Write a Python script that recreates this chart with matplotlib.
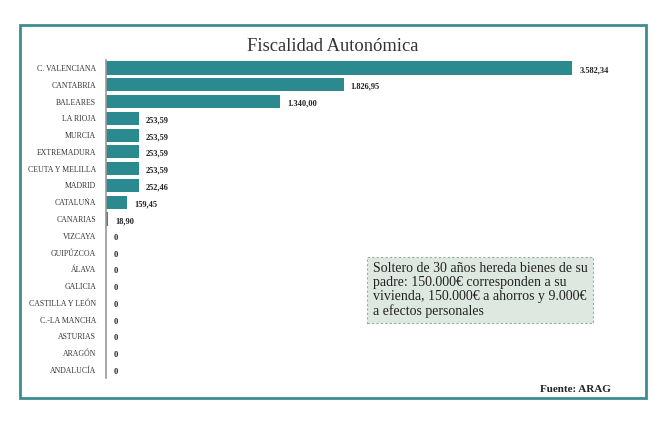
import matplotlib.pyplot as plt
from matplotlib.patches import Rectangle

regiones = ['C. VALENCIANA', 'CANTABRIA', 'BALEARES', 'LA RIOJA', 'MURCIA',
            'EXTREMADURA', 'CEUTA Y MELILLA', 'MADRID', 'CATALUÑA', 'CANARIAS',
            'VIZCAYA', 'GUIPÚZCOA', 'ÁLAVA', 'GALICIA', 'CASTILLA Y LEÓN',
            'C.-LA MANCHA', 'ASTURIAS', 'ARAGÓN', 'ANDALUCÍA']
importes = [3582.34, 1826.95, 1340.00, 253.59, 253.59, 253.59, 253.59, 252.46,
            159.45, 18.90, 0, 0, 0, 0, 0, 0, 0, 0, 0]
etiquetas = ['3.582,34', '1.826,95', '1.340,00', '253,59', '253,59', '253,59',
             '253,59', '252,46', '159,45', '18,90', '0', '0', '0', '0', '0',
             '0', '0', '0', '0']

teal = '#2b8a8f'
serif = ['Liberation Serif', 'DejaVu Serif']

fig = plt.figure(figsize=(6.7, 4.28), dpi=100)
fig.patch.set_facecolor('white')

# marco
fig.patches.append(Rectangle((0.0299, 0.0701), 0.934, 0.8715, transform=fig.transFigure,
                             fill=False, edgecolor='#3d8c90', linewidth=2))

ax = fig.add_axes([106 / 670, 0.1159, (640 - 106) / 670, 0.7448])
y = list(range(len(regiones)))
ax.barh(y, importes, height=0.78, color=teal)
ax.set_ylim(len(regiones) - 0.5, -0.5)
ax.set_xlim(0, 4105)
ax.set_yticks(y)
ax.set_yticklabels(regiones, family=serif, fontsize=5.6, color='#333333')
ax.tick_params(axis='y', length=0, pad=7)
ax.set_xticks([])
for s in ['top', 'right', 'bottom']:
    ax.spines[s].set_visible(False)
ax.spines['left'].set_color('#999999')
ax.spines['left'].set_linewidth(1.2)

for yi, v, t in zip(y, importes, etiquetas):
    ax.text(v + 55, yi + 0.12, t, va='center', ha='left', family=serif,
            fontsize=6, fontweight='bold', color='#222222')

fig.text(0.497, 0.8925, 'Fiscalidad Autonómica', ha='center', va='center',
         family=serif, fontsize=13.3, color='#333333')

fig.text(373 / 670, 1 - 290 / 428,
         'Soltero de 30 años hereda bienes de su\npadre: 150.000€ corresponden a su\n'
         'vivienda, 150.000€ a ahorros y 9.000€\na efectos personales',
         ha='left', va='center', family=serif, fontsize=10, color='#222222',
         linespacing=1.1,
         bbox=dict(boxstyle='square,pad=0.4', facecolor='#dde8e1',
                   edgecolor='#a0aaa5', linestyle=(0, (2, 2)), linewidth=0.8))

fig.text(611 / 670, 1 - 389 / 428, 'Fuente: ARAG', ha='right', va='center',
         family=serif, fontsize=8, fontweight='bold', color='#222222')

fig.savefig('out.png', dpi=100)
